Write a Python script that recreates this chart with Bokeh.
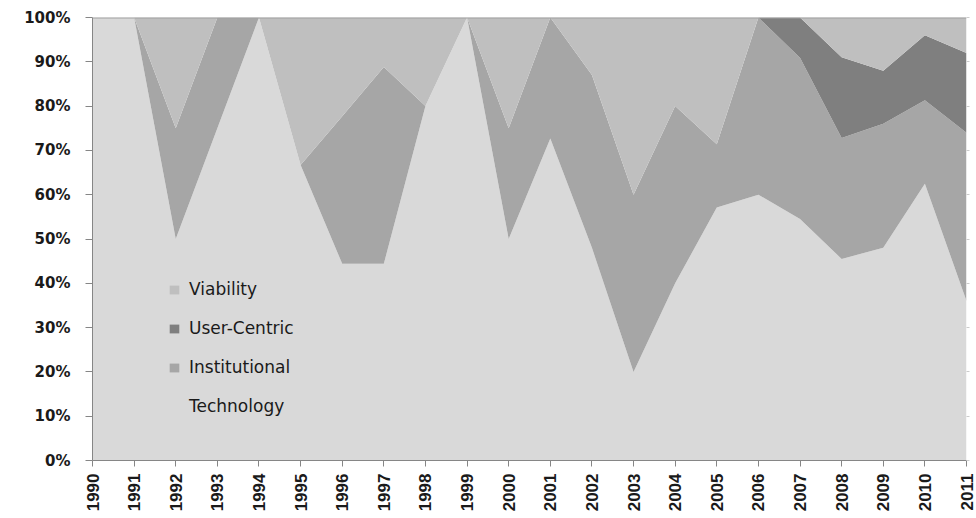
from bokeh.plotting import figure
from bokeh.models import (ColumnDataSource, FixedTicker, CustomJSTickFormatter, Legend, LegendItem,
                          LinearAxis, Range1d, Span)
from bokeh.embed import file_html
from bokeh.resources import INLINE

years = list(range(1990, 2012))
technology = [100, 100, 50, 75, 100, 66.7, 44.4, 44.4, 80, 100, 50, 72.7, 48, 20, 40, 57.1, 60, 54.5, 45.5, 48, 62.5, 36]
institutional = [0, 0, 25, 25, 0, 0, 33.3, 44.4, 0, 0, 25, 27.3, 39, 40, 40, 14.3, 40, 36.4, 27.3, 28, 18.8, 38]
user_centric = [0, 0, 0, 0, 0, 0, 0, 0, 0, 0, 0, 0, 0, 0, 0, 0, 0, 9.1, 18.2, 12, 14.7, 18]
viability = [0, 0, 25, 0, 0, 33.3, 22.3, 11.2, 20, 0, 25, 0, 13, 40, 20, 28.6, 0, 0, 9.0, 12, 4, 8]
y_ticks = [0, 0.1, 0.2, 0.3, 0.4, 0.5, 0.6, 0.7, 0.8, 0.9, 1.0]

names = ["Technology", "Institutional", "User-Centric", "Viability"]
colors = ["#d9d9d9", "#a6a6a6", "#7f7f7f", "#bfbfbf"]
series = [technology, institutional, user_centric, viability]

totals = [sum(v) for v in zip(*series)]
data = {"year": years}
for n, s in zip(names, series):
    data[n] = [v / t for v, t in zip(s, totals)]
src = ColumnDataSource(data)

p = figure(width=976, height=514, output_backend="svg", toolbar_location=None,
           x_range=Range1d(1990, 2011), y_range=Range1d(0, 1),
           min_border_left=92, min_border_right=10, min_border_top=17, min_border_bottom=50)
p.outline_line_color = None
p.grid.visible = False
p.background_fill_color = "white"

rs = p.varea_stack(stackers=names, x="year", source=src, color=colors)

top = Span(location=1, dimension="width", line_color="#a0a0a0", line_width=2)
p.add_layout(top)

# axes
xa = p.xaxis[0]
xa.ticker = FixedTicker(ticks=years)
xa.major_label_orientation = 3.14159265 / 2
xa.major_label_text_font = "Liberation Sans"
xa.major_label_text_font_size = "17px"
xa.major_label_text_font_style = "bold"
xa.major_label_text_color = "#1a1a1a"
xa.axis_line_color = "#868686"
xa.major_tick_line_color = "#868686"
xa.major_tick_out = 6
xa.major_tick_in = 0
xa.minor_tick_line_color = None
xa.major_label_standoff = 7

ya = p.yaxis[0]
ya.ticker = FixedTicker(ticks=y_ticks)
ya.formatter = CustomJSTickFormatter(code="return Math.round(tick*100) + '%';")
ya.major_label_text_font = "DejaVu Sans"
ya.major_label_text_font_size = "15px"
ya.major_label_text_font_style = "bold"
ya.major_label_text_color = "#1a1a1a"
ya.axis_line_color = "#868686"
ya.major_tick_line_color = "#868686"
ya.major_tick_out = 7
ya.major_tick_in = 0
ya.minor_tick_line_color = None
ya.major_label_standoff = 15

ra = LinearAxis(ticker=FixedTicker(ticks=y_ticks), axis_line_color=None,
                major_tick_line_color="#cccccc", major_tick_out=3, major_tick_in=0,
                minor_tick_line_color=None,
                formatter=CustomJSTickFormatter(code="return '';"),
                major_label_standoff=0)
p.add_layout(ra, "right")

items = [LegendItem(label=n, renderers=[r]) for n, r in zip(names, rs)]
items = items[::-1]
legend = Legend(items=items, location=(76, 44), orientation="vertical")
legend.background_fill_alpha = 0
legend.border_line_color = None
legend.padding = 0
legend.margin = 0
legend.spacing = 19
legend.label_height = 20
legend.glyph_height = 11
legend.glyph_width = 12
legend.label_standoff = 9
legend.label_text_font = "DejaVu Sans"
legend.label_text_font_size = "17px"
legend.label_text_color = "#1a1a1a"
p.add_layout(legend)

open("out.html", "w").write(file_html(p, INLINE))
